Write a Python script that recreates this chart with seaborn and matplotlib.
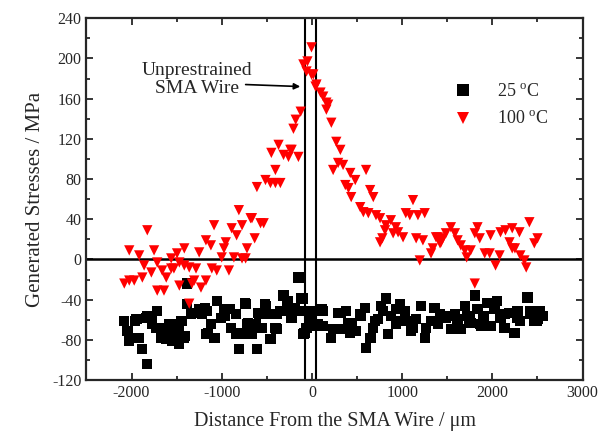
import matplotlib
matplotlib.use("Agg")
import matplotlib.pyplot as plt
import seaborn as sns
import pandas as pd
from matplotlib.ticker import MultipleLocator

# ---- data ----
x_25 = [-2080,-2045,-2025,-1945,-1915,-1880,-1835,-1825,-1780,-1725,-1715,-1670,-1640,-1615,-1585,-1560,
        -1545,-1505,-1475,-1450,-1470,-1415,-1385,-1385,-1340,-1290,-1250,-1220,-1175,-1160,-1120,-1085,
        -1055,-1010,-975,-945,-900,-845,-845,-810,-775,-735,-720,-680,-625,-610,-590,-555,-515,-500,-460,
        -405,-390,-350,-315,-280,-235,-225,-170,-150,-115,-95,-60,-50,-10,30,60,105,125,215,235,290,320,
        380,425,440,490,535,590,600,655,675,735,765,820,845,875,930,975,1030,1040,1095,1150,1210,1250,1265,
        1320,1360,1400,1450,1505,1540,1585,1615,1650,1695,1720,1760,1805,1835,1870,1900,1945,1980,2025,
        2055,2090,2135,2190,2245,2280,2310,2390,2420,2465,2500,2530,2555,
        -1958,-1925,-1825,-1770,-1660,-1605,-1550,-1484,-1440,-1406,-1241,-1186,-1153,-1075,-965,-910,
        -822,-745,-711,-667,-601,-524,-491,-392,-336,-270,-193,-105,-83,-6,61,116,
        325,403,546,645,700,789,932,987,1120,1417,1483,1748,1859,2134,2278,2421,2498]
y_25 = [-61,-71,-81,-59,-78,-89,-58,-104,-58,-68,-51,-78,-68,-79,-64,-74,
        -81,-71,-68,-61,-84,-78,-24,-44,-54,-53,-49,-54,-74,-51,-64,-78,
        -41,-58,-51,-49,-68,-54,-74,-89,-74,-44,-64,-74,-64,-89,-54,-68,-46,-54,-79,
        -68,-54,-51,-36,-44,-48,-58,-51,-18,-39,-74,-68,-51,-58,-51,-66,-49,-66,-78,-69,-53,-69,
        -51,-73,-63,-71,-54,-48,-88,-78,-68,-59,-46,-39,-74,-56,-64,-44,-51,-61,-71,-59,-46,-78,-68,
        -61,-48,-64,-56,-56,-69,-54,-59,-69,-46,-56,-63,-36,-49,-66,-56,-43,-66,-49,
        -41,-58,-68,-53,-73,-51,-61,-38,-51,-61,-59,-51,-56,
        -61,-78,-56,-64,-76,-79,-64,-81,-61,-76,-51,-48,-73,-78,-56,-49,
        -73,-43,-63,-74,-53,-44,-54,-69,-51,-41,-48,-39,-73,-54,-64,-51,
        -53,-63,-56,-78,-61,-51,-49,-61,-68,-54,-58,-59,-64,-54,-58,-54,-61]

x_100 = [-2080,-2025,-1970,-2025,-1915,-1825,-1860,-1880,-1780,-1750,-1715,-1715,-1640,-1660,-1615,-1560,
         -1560,-1530,-1495,-1470,-1470,-1415,-1415,-1360,-1330,-1305,-1285,-1360,-1250,-1230,-1175,-1175,
         -1120,-1110,-1085,-1055,-1000,-975,-955,-920,-890,-865,-835,-810,-775,-775,-735,-720,-680,-665,
         -635,-610,-570,-535,-515,-460,-405,-350,-450,-405,-370,-315,-260,-225,-150,-240,-205,-180,-125,
         -95,-50,-60,-5,-5,
         40,15,50,95,125,160,180,160,215,270,315,235,290,345,425,480,370,405,435,600,645,680,535,570,625,
         710,755,875,820,810,930,900,955,1010,755,780,1040,1085,1120,1175,1250,1155,1230,1195,1320,1340,
         1395,1430,1375,1420,1450,1485,1540,1585,1615,1650,1695,1715,1760,1805,1835,1860,1805,1915,1970,
         1980,2035,2080,2090,2145,2190,2220,2220,2250,2300,2310,2355,2375,2410,2465,2500]
y_100 = [-24,-21,-21,9,4,29,-6,-18,-13,9,-3,-31,-31,-11,-18,-9,
         1,-9,6,-3,-26,11,-6,-8,-24,-21,-9,-44,7,-28,-21,19,
         14,-9,34,-11,2,11,17,-11,31,2,24,49,1,34,1,11,41,41,
         21,72,36,36,79,76,76,76,106,89,114,104,102,109,102,109,130,139,147,
         194,197,187,211,184,
         172,184,174,166,162,156,154,149,136,117,109,89,96,94,86,79,74,71,62,89,69,62,52,47,46,
         44,41,39,34,29,32,26,27,22,17,21,46,44,59,44,46,21,19,-1,6,11,
         22,17,22,16,21,26,32,26,19,14,9,2,9,26,32,21,-24,6,6,
         24,-6,4,27,29,17,31,11,11,27,4,-1,-8,37,16,21]

temps = ["25 $^{\\mathrm{o}}$C", "100 $^{\\mathrm{o}}$C"]

df = pd.DataFrame({
    "x": x_25 + x_100,
    "y": y_25 + y_100,
    "T": [temps[0]] * len(x_25) + [temps[1]] * len(x_100),
})

sns.set_style("ticks")
plt.rcParams["font.family"] = ["Liberation Serif", "DejaVu Serif"]
plt.rcParams["mathtext.fontset"] = "custom"
plt.rcParams["mathtext.rm"] = "Liberation Serif"
plt.rcParams["axes.unicode_minus"] = False

fig = plt.figure(figsize=(6.0, 4.44), dpi=100)
ax = fig.add_axes([0.144, 0.144, 0.827, 0.815])

ax.axhline(0, color="black", lw=1.8, zorder=1)
ax.axvline(-75, color="black", lw=1.5, zorder=1)
ax.axvline(50, color="black", lw=1.5, zorder=1)

sns.scatterplot(data=df, x="x", y="y", hue="T", style="T",
                palette={temps[0]: "black", temps[1]: "#ff0000"},
                markers={temps[0]: "s", temps[1]: "v"},
                s=55, linewidth=0, ax=ax, zorder=3)

ax.set_xlim(-2500, 3000)
ax.set_ylim(-120, 240)
ax.xaxis.set_major_locator(MultipleLocator(1000))
ax.xaxis.set_minor_locator(MultipleLocator(500))
ax.yaxis.set_major_locator(MultipleLocator(40))
ax.yaxis.set_minor_locator(MultipleLocator(20))
ax.tick_params(which="both", direction="in", top=True, right=True, labelsize=11.5, width=1.3)
ax.tick_params(which="major", length=5)
ax.tick_params(which="minor", length=3)
for sp in ax.spines.values():
    sp.set_linewidth(1.6)

ax.set_xlabel("Distance From the SMA Wire / μm", fontsize=14.5, labelpad=8)
ax.set_ylabel("Generated Stresses / MPa", fontsize=15, labelpad=5)

ax.text(-1275, 179, "Unprestrained\nSMA Wire", ha="center", va="center",
        fontsize=14, linespacing=1.05)
ax.annotate("", xy=(-130, 172), xytext=(-735, 174),
            arrowprops=dict(arrowstyle="-|>", color="black", lw=1.2, mutation_scale=9,
                            shrinkA=0, shrinkB=0))

leg = ax.legend(loc="upper left", bbox_to_anchor=(0.69, 0.865), frameon=False,
                fontsize=13, handletextpad=0.9, labelspacing=0.55, markerscale=1.1)

fig.savefig("out.png", dpi=100)
